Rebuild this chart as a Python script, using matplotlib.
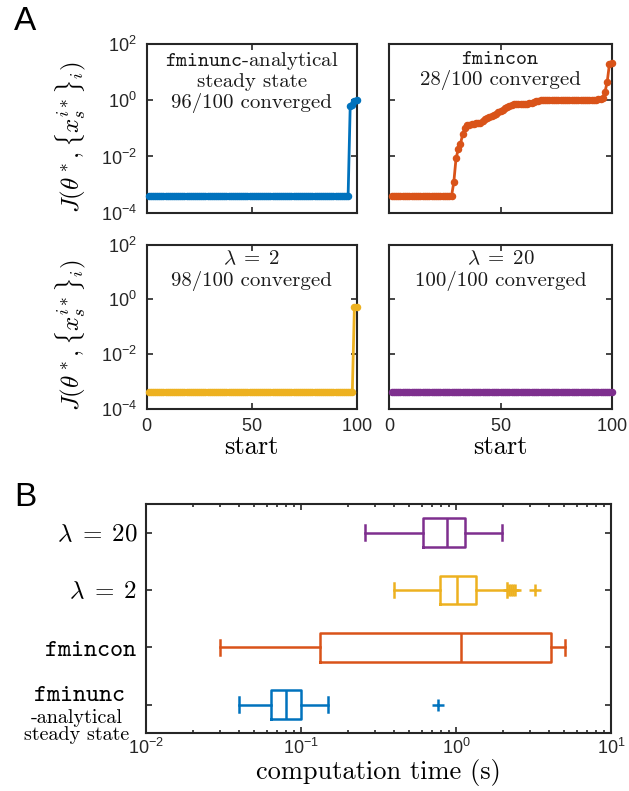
import numpy as np
import matplotlib
matplotlib.use("Agg")
import matplotlib.pyplot as plt
from matplotlib.ticker import NullFormatter, LogLocator

plt.rcParams['font.family'] = 'cmr10'
plt.rcParams['mathtext.fontset'] = 'cm'
plt.rcParams['axes.formatter.use_mathtext'] = True
plt.rcParams['axes.unicode_minus'] = True

# colours (matlab default order)
C_BLUE = '#0072BD'
C_ORANGE = '#D95319'
C_YELLOW = '#EDB120'
C_PURPLE = '#7E2F8E'
DARK = '#262626'

# ---- panel A data: objective value at each of 100 starts (sorted) ----
start = np.arange(1, 101)
J_CONVERGED = 3.9e-4          # value reached by the converged starts

n_conv_fminunc = 96
tail_fminunc = [0.62, 0.66, 0.95, 1.0]

n_conv_lambda2 = 98
tail_lambda2 = [0.50, 0.53]

n_conv_lambda20 = 100
tail_lambda20 = []

J_fmincon = [
    4e-4, 4e-4, 4e-4, 4e-4, 4e-4, 4e-4, 4e-4, 4e-4, 4e-4, 4e-4,
    4e-4, 4e-4, 4e-4, 4e-4, 4e-4, 4e-4, 4e-4, 4e-4, 4e-4, 4e-4,
    4e-4, 4e-4, 4e-4, 4e-4, 4e-4, 4e-4, 4e-4, 4e-4, 1.2e-3, 8.5e-3,
    0.018, 0.028, 0.062, 0.10, 0.13, 0.13, 0.14, 0.14, 0.15, 0.15,
    0.16, 0.19, 0.21, 0.23, 0.25, 0.27, 0.30, 0.33, 0.37, 0.41,
    0.45, 0.52, 0.58, 0.63, 0.68, 0.71, 0.71, 0.72, 0.72, 0.73,
    0.73, 0.74, 0.78, 0.83, 0.88, 0.93, 0.97, 1.00, 1.00, 1.01,
    1.01, 1.01, 1.02, 1.02, 1.02, 1.02, 1.03, 1.03, 1.03, 1.03,
    1.03, 1.04, 1.04, 1.04, 1.04, 1.04, 1.05, 1.05, 1.05, 1.05,
    1.05, 1.06, 1.06, 1.07, 1.10, 1.25, 2.0, 4.6, 20.0, 21.0,
]

J_fminunc = np.concatenate([np.full(n_conv_fminunc, J_CONVERGED), tail_fminunc])
J_lambda2 = np.concatenate([np.full(n_conv_lambda2, J_CONVERGED), tail_lambda2])
J_lambda20 = np.concatenate([np.full(n_conv_lambda20, J_CONVERGED), tail_lambda20])

titles = [
    '$\\mathtt{fminunc}$-analytical\nsteady state\n96/100 converged',
    '$\\mathtt{fmincon}$\n28/100 converged',
    '$\\lambda\\;=\\;2$\n98/100 converged',
    '$\\lambda\\;=\\;20$\n100/100 converged',
]

# ---- panel B data: computation time box stats (bottom -> top) ----
box_labels = ['', '$\\mathtt{fmincon}\\ $', '$\\lambda\\;=\\;2\\ $',
              '$\\lambda\\;=\\;20$']
box_med = [0.080, 1.07, 1.02, 0.87]
box_q1 = [0.0644, 0.133, 0.79, 0.61]
box_q3 = [0.100, 4.12, 1.34, 1.15]
box_lo = [0.040, 0.030, 0.40, 0.26]
box_hi = [0.150, 5.07, 2.12, 1.97]
box_fliers = [[0.76], [], [2.2, 2.25, 2.32, 2.42, 3.25], []]
box_colors = [C_BLUE, C_ORANGE, C_YELLOW, C_PURPLE]

W, H = 629, 791
fig = plt.figure(figsize=(W / 100, H / 100), dpi=100)


def rect(x0, y0, x1, y1):
    return [x0 / W, 1 - y1 / H, (x1 - x0) / W, (y1 - y0) / H]


def style_axes(ax):
    for s in ax.spines.values():
        s.set_linewidth(1.5)
        s.set_color(DARK)
    ax.tick_params(which='both', direction='in', top=True, right=True,
                   color=DARK, labelcolor=DARK, width=1.2,
                   labelfontfamily='Liberation Sans', labelsize=13)
    ax.tick_params(which='major', length=4)
    ax.tick_params(which='minor', length=2.5)


axs = [
    fig.add_axes(rect(146.7, 44, 356.5, 212.7)),
    fig.add_axes(rect(389.3, 44, 611.7, 212.7)),
    fig.add_axes(rect(146.7, 244.5, 356.5, 408.5)),
    fig.add_axes(rect(389.3, 244.5, 611.7, 408.5)),
]
series = [J_fminunc, J_fmincon, J_lambda2, J_lambda20]
colors = [C_BLUE, C_ORANGE, C_YELLOW, C_PURPLE]

for i, ax in enumerate(axs):
    ax.plot(start, series[i], '-o', color=colors[i], lw=2.0, ms=4.4,
            clip_on=False, zorder=3)
    ax.set_yscale('log')
    ax.set_xlim(0, 100)
    ax.set_ylim(1e-4, 1e2)
    ax.set_yticks([1e-4, 1e-2, 1e0, 1e2])
    ax.yaxis.set_minor_locator(plt.NullLocator())
    ax.set_xticks([0, 50, 100])
    style_axes(ax)
    ax.tick_params(axis='y', pad=7)
    ax.tick_params(axis='x', pad=7)
    ax.text(0.5, 0.965, titles[i], transform=ax.transAxes, ha='center',
            va='top', fontsize=15, linespacing=1.12, color='#1a1a1a')
    if i < 2:
        ax.tick_params(labelbottom=False)
    else:
        ax.set_xlabel('start', fontsize=19, labelpad=0)
    if i % 2 == 1:
        ax.tick_params(labelleft=False)
    else:
        ax.set_ylabel('$J(\\theta^*,\\{x_s^{i*}\\}_i)$', fontsize=18)
        ax.yaxis.set_label_coords(-0.28, 0.45)

# ---- panel B ----
axb = fig.add_axes(rect(146, 504, 611, 733.3))
stats = []
for k in range(4):
    stats.append(dict(med=box_med[k], q1=box_q1[k], q3=box_q3[k],
                      whislo=box_lo[k], whishi=box_hi[k],
                      fliers=box_fliers[k]))
bp = axb.bxp(stats, positions=[1, 2, 3, 4], orientation='horizontal',
             widths=0.5, capwidths=0.26, showfliers=True)
for k, c in enumerate(box_colors):
    bp['boxes'][k].set(color=c, lw=1.8)
    bp['medians'][k].set(color=c, lw=1.8)
    for ln in bp['whiskers'][2 * k:2 * k + 2] + bp['caps'][2 * k:2 * k + 2]:
        ln.set(color=c, lw=1.8, ls='-')
    bp['fliers'][k].set(marker='+', markeredgecolor=c, markersize=8,
                        markeredgewidth=1.8)

axb.set_xscale('log')
axb.set_xlim(1e-2, 1e1)
axb.set_ylim(0.5, 4.5)
axb.xaxis.set_major_locator(LogLocator(base=10, numticks=10))
axb.xaxis.set_minor_locator(LogLocator(base=10, subs=np.arange(2, 10), numticks=30))
axb.xaxis.set_minor_formatter(NullFormatter())
style_axes(axb)
axb.tick_params(axis='x', pad=3)
axb.set_yticks([1, 2, 3, 4])
axb.set_yticklabels(box_labels, fontsize=18, fontfamily='cmr10', color='black')
axb.tick_params(axis='y', pad=6)
axb.set_xlabel('computation time (s)', fontsize=19, labelpad=1)

# multi-line label of the bottom category
axb.annotate('$\\mathtt{fminunc}$', xy=(0, 1), xycoords=('axes fraction', 'data'),
             xytext=(-48, 7), textcoords='offset points', ha='center',
             va='center', fontsize=18)
axb.annotate('-analytical\nsteady state', xy=(0, 1),
             xycoords=('axes fraction', 'data'), xytext=(-50, -15.5),
             textcoords='offset points', ha='center', va='center',
             fontsize=14.5, linespacing=0.95)

fig.text(25 / W, 1 - 22 / H, 'A', fontsize=24, family='Liberation Sans',
         ha='center', va='center')
fig.text(25 / W, 1 - 497 / H, 'B', fontsize=24, family='Liberation Sans',
         ha='center', va='center')

fig.savefig('out.png', dpi=100)
